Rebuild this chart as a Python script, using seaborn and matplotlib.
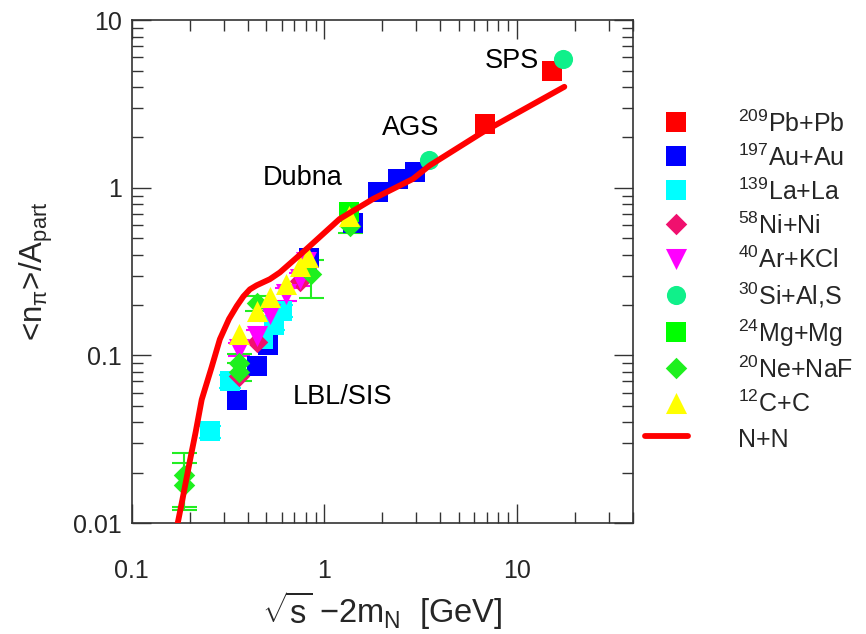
import matplotlib
matplotlib.use("Agg")
import matplotlib.pyplot as plt
import matplotlib.ticker as mticker
from matplotlib.legend_handler import HandlerLine2D
import seaborn as sns

sns.set_theme(style="ticks")
plt.rcParams["font.family"] = ["Liberation Sans", "DejaVu Sans"]
plt.rcParams["mathtext.fontset"] = "custom"
plt.rcParams["mathtext.rm"] = "Liberation Sans"
plt.rcParams["mathtext.it"] = "Liberation Sans:italic"
plt.rcParams["mathtext.sf"] = "Liberation Sans"

# ---- pion multiplicity per participant vs available energy ----
pb_x = [6.78, 15.1]
pb_y = [2.42, 4.95]
au_x = [0.351, 0.445, 0.511, 0.83, 1.41, 1.90, 2.41, 2.94]
au_y = [0.0545, 0.0863, 0.116, 0.38, 0.62, 0.94, 1.13, 1.24]
la_x = [0.255, 0.325, 0.48, 0.55, 0.60]
la_y = [0.0352, 0.0702, 0.125, 0.153, 0.184]
la_err = [0.003, 0.006, 0.010, 0.012, 0.015]
ni_x = [0.36, 0.445, 0.75]
ni_y = [0.075, 0.12, 0.28]
ar_x = [0.361, 0.445, 0.521, 0.636, 0.746, 0.80]
ar_y = [0.109, 0.130, 0.176, 0.232, 0.285, 0.36]
ar_err = [0.010, 0.012, 0.015, 0.020, 0.025, 0.03]
si_x = [3.49, 17.4]
si_y = [1.457, 5.84]
mg_x = [1.34]
mg_y = [0.715]
ne_x = [0.187, 0.187, 0.361, 0.361, 0.445, 0.857, 1.355]
ne_y = [0.0194, 0.0169, 0.0904, 0.080, 0.205, 0.305, 0.594]
ne_lo = [0.0069, 0.0049, 0.012, 0.010, 0.020, 0.085, 0.054]
ne_hi = [0.0068, 0.0060, 0.012, 0.010, 0.020, 0.065, 0.066]
c_x = [0.361, 0.445, 0.521, 0.636, 0.746, 0.824, 1.34]
c_y = [0.134, 0.184, 0.222, 0.266, 0.343, 0.385, 0.68]

# nucleon-nucleon reference curve
nn_x = [0.171, 0.185, 0.201, 0.215, 0.231, 0.245, 0.26, 0.287, 0.32, 0.351,
        0.38, 0.411, 0.445, 0.521, 0.588, 0.807, 1.20, 1.79, 2.88, 3.52,
        6.64, 17.6]
nn_y = [0.0092, 0.0145, 0.0238, 0.035, 0.0545, 0.068, 0.085, 0.125, 0.165,
        0.197, 0.225, 0.248, 0.262, 0.285, 0.313, 0.431, 0.652, 0.859, 1.13,
        1.36, 2.15, 4.01]

labels = [r"$^{209}$Pb+Pb", r"$^{197}$Au+Au", r"$^{139}$La+La",
          r"$^{58}$Ni+Ni", r"$^{40}$Ar+KCl", r"$^{30}$Si+Al,S",
          r"$^{24}$Mg+Mg", r"$^{20}$Ne+NaF", r"$^{12}$C+C", "N+N"]

series = [
    (pb_x, pb_y, "s", "#ff0000", 200),
    (au_x, au_y, "s", "#0000ff", 200),
    (la_x, la_y, "s", "#00ffff", 200),
    (ni_x, ni_y, "D", "#f0106e", 120),
    (ar_x, ar_y, "v", "#ff00ff", 230),
    (si_x, si_y, "o", "#10f08a", 190),
    (mg_x, mg_y, "s", "#00ff00", 200),
    (ne_x, ne_y, "D", "#1ef01e", 120),
    (c_x, c_y, "^", "#ffff00", 230),
]


class ShortLineHandler(HandlerLine2D):
    """Legend line that only fills the left part of the handle box."""

    def create_artists(self, legend, orig_handle, xdescent, ydescent,
                       width, height, fontsize, trans):
        return super().create_artists(legend, orig_handle, xdescent, ydescent,
                                      width * 0.68, height, fontsize, trans)


fig = plt.figure(figsize=(8.66, 6.34), dpi=100)
ax = fig.add_axes([0.152, 0.175, 0.579, 0.793])

# error bars sit underneath the markers
ax.errorbar(la_x, la_y, yerr=la_err, fmt="none", ecolor="#00ffff",
            elinewidth=1.5, capsize=8, capthick=1.5, zorder=1)
ax.errorbar(ar_x, ar_y, yerr=ar_err, fmt="none", ecolor="#ff00ff",
            elinewidth=1.5, capsize=8, capthick=1.5, zorder=1)
ax.errorbar(ne_x, ne_y, yerr=[ne_lo, ne_hi], fmt="none", ecolor="#22ee22",
            elinewidth=1.5, capsize=9, capthick=1.5, zorder=1)

for (xs, ys, mk, col, size), lab in zip(series, labels):
    sns.scatterplot(x=xs, y=ys, marker=mk, color=col, s=size, linewidth=0,
                    label=lab, ax=ax, zorder=3)

sns.lineplot(x=nn_x, y=nn_y, color="#ff0000", linewidth=4.2, label=labels[-1],
             ax=ax, sort=False, zorder=5)

ax.set_xscale("log")
ax.set_yscale("log")
ax.set_xlim(0.1, 40)
ax.set_ylim(0.01, 10)

fmt = mticker.FuncFormatter(lambda v, p: f"{v:g}")
ax.xaxis.set_major_formatter(fmt)
ax.yaxis.set_major_formatter(fmt)
ax.xaxis.set_minor_formatter(mticker.NullFormatter())
ax.yaxis.set_minor_formatter(mticker.NullFormatter())
ax.xaxis.set_minor_locator(mticker.LogLocator(base=10, subs=range(2, 10), numticks=20))
ax.yaxis.set_minor_locator(mticker.LogLocator(base=10, subs=range(2, 10), numticks=20))

ax.tick_params(which="both", direction="in", top=True, right=True,
               color="#333333", width=1.0)
ax.tick_params(which="major", length=14, labelsize=18)
ax.tick_params(axis="x", which="major", pad=26)
ax.tick_params(axis="y", which="major", pad=7)
ax.tick_params(which="minor", length=8)
for sp in ax.spines.values():
    sp.set_color("#333333")
    sp.set_linewidth(1.2)

ax.set_xlabel(r"$\sqrt{\mathrm{s}}$ $-$2m$_{\mathrm{N}}$  [GeV]", fontsize=23.5,
              labelpad=4)
ax.set_ylabel(r"<n$_{\mathrm{π}}$>/A$_{\mathrm{part}}$", fontsize=22.5,
              labelpad=13)

for txt, tx, ty in [("SPS", 6.78, 5.72), ("AGS", 1.99, 2.29),
                    ("Dubna", 0.48, 1.15), ("LBL/SIS", 0.686, 0.0564)]:
    ax.text(tx, ty, txt, fontsize=19.5, ha="left", va="center", color="black")

handles, labs = ax.get_legend_handles_labels()
ax.get_legend().remove()
fig.legend(handles, labs, loc="upper left", bbox_to_anchor=(0.745, 0.826),
           frameon=False, fontsize=18, borderpad=0, borderaxespad=0,
           handlelength=2.5, handleheight=1.25, handletextpad=1.2,
           labelspacing=0.30,
           handler_map={handles[-1]: ShortLineHandler()})

fig.savefig("out.png", dpi=100)
